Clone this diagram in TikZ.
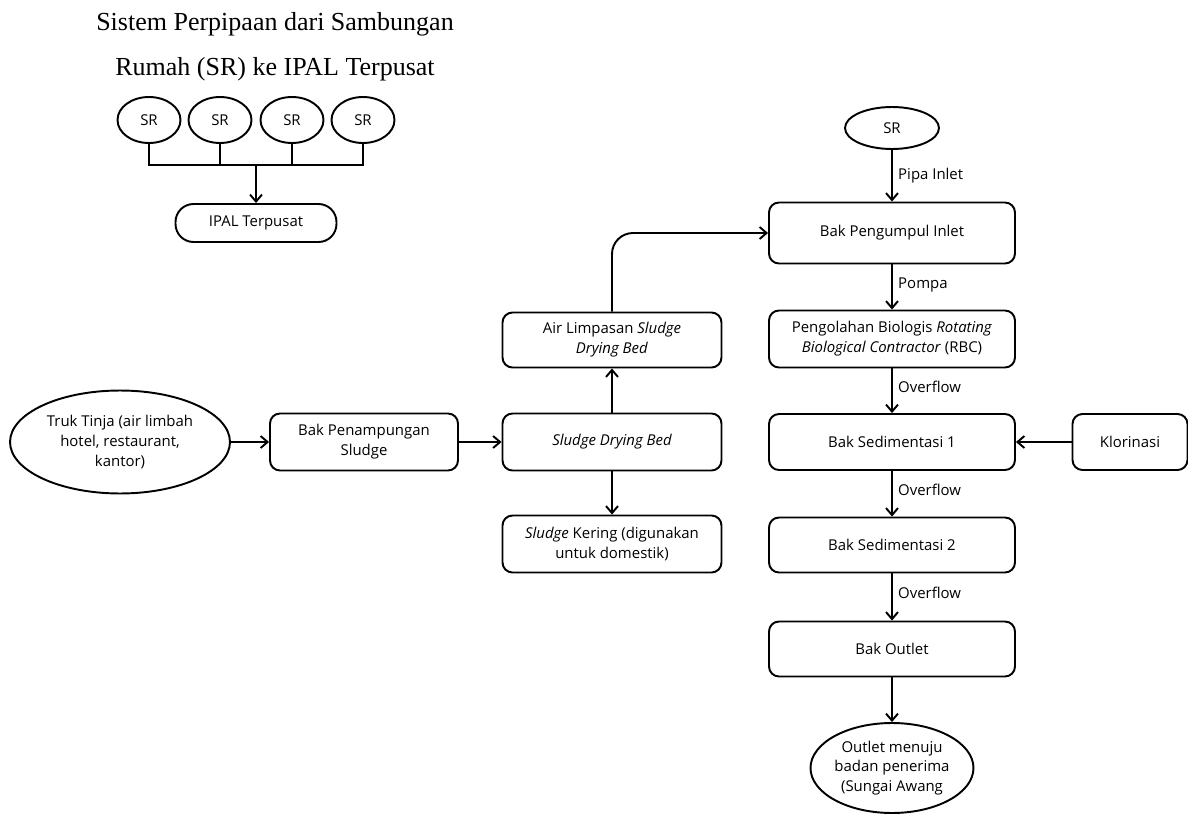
\documentclass[tikz,border=0pt]{standalone}
\usepackage{fontspec}
\setmainfont{Open Sans}
\newfontfamily\judulfont{Liberation Serif}
\usepackage{tikz}
\usetikzlibrary{positioning,arrows.meta,shapes.geometric}
\tikzset{
  box/.style={draw,line width=1.1pt,rounded corners=0.2cm,minimum width=4.92cm,minimum height=1.12cm,
              align=center,inner sep=2pt,font=\fontsize{8.5}{11.3}\selectfont},
  oval/.style={draw,ellipse,line width=1.1pt,inner sep=0pt,align=center,font=\fontsize{8.5}{11.3}\selectfont},
  pipe/.style={line width=1.1pt},
  flow/.style={line width=1.1pt,-{Straight Barb[length=1.4mm,width=2.4mm]}},
  lab/.style={font=\fontsize{8.5}{11.3}\selectfont,right,inner sep=3pt},
  judul/.style={align=center,font=\judulfont\fontsize{14.8}{25.5}\selectfont}
}
\begin{document}
\begin{tikzpicture}[x=0.02cm,y=-0.02cm]
    \useasboundingbox (0,0) rectangle (1188,815);
    % judul dan sistem SR
    \node[judul] (judul) at (275,47) {Sistem Perpipaan dari Sambungan\\Rumah (SR) ke IPAL Terpusat};
    \node[oval,minimum width=1.26cm,minimum height=0.92cm] (sr1) at (149,120) {SR};
    \node[oval,minimum width=1.26cm,minimum height=0.92cm] (sr2) at (220,120) {SR};
    \node[oval,minimum width=1.26cm,minimum height=0.92cm] (sr3) at (292,120) {SR};
    \node[oval,minimum width=1.26cm,minimum height=0.92cm] (sr4) at (363,120) {SR};
    \node[box,minimum width=3.22cm,minimum height=0.76cm,rounded corners=0.36cm] (ipal) at (256,223) {IPAL Terpusat};
    \coordinate (bus) at (256,165);
    \draw[pipe] (sr1.south) |- (bus) -| (sr4.south);
    \draw[pipe] (sr2.south) -- (sr2.south |- bus);
    \draw[pipe] (sr3.south) -- (sr3.south |- bus);
    \draw[flow] (bus) -- (ipal.north);
    % jalur lumpur
    \node[oval,minimum width=4.4cm,minimum height=2.06cm] (truk) at (120,442) {Truk Tinja (air limbah\\hotel, restaurant,\\kantor)};
    \node[box,minimum width=3.76cm,minimum height=1.14cm] (tampung) at (364,442) {Bak Penampungan\\Sludge};
    \node[box,minimum width=4.38cm,minimum height=1.14cm] (sdb) at (612,442) {\itshape Sludge Drying Bed};
    \node[box,minimum width=4.38cm,minimum height=1.14cm] (kering) at (612,544) {\textit{Sludge} Kering (digunakan\\untuk domestik)};
    \node[box,minimum width=4.38cm,minimum height=1.1cm] (limpas) at (612,340) {Air Limpasan \textit{Sludge}\\\textit{Drying Bed}};
    \draw[flow] (truk.east) -- (tampung.west);
    \draw[flow] (tampung.east) -- (sdb.west);
    \draw[flow] (sdb.south) -- (kering.north);
    \draw[flow] (sdb.north) -- (limpas.south);
    % jalur air limbah
    \node[oval,minimum width=1.88cm,minimum height=0.84cm] (srR) at (892,128) {SR};
    \node[box,minimum height=1.22cm] (inlet) at (892,233) {Bak Pengumpul Inlet};
    \node[box,minimum height=1.14cm] (rbc) at (892,339) {Pengolahan Biologis \textit{Rotating}\\\textit{Biological Contractor} (RBC)};
    \node[box] (sed1) at (892,442) {Bak Sedimentasi 1};
    \node[box,minimum width=2.3cm] (klor) at (1130,442) {Klorinasi};
    \node[box,minimum height=1.1cm] (sed2) at (892,545) {Bak Sedimentasi 2};
    \node[box,minimum height=1.1cm] (outlet) at (892,649) {Bak Outlet};
    \node[oval,minimum width=3.26cm,minimum height=1.8cm] (sungai) at (892,768) {Outlet menuju\\badan penerima\\(Sungai Awang};
    \draw[flow,rounded corners=0.42cm] (limpas.north) |- (inlet.west);
    \draw[flow] (srR.south) -- (inlet.north) node[lab,pos=0.5] {Pipa Inlet};
    \draw[flow] (inlet.south) -- (rbc.north) node[lab,pos=0.45] {Pompa};
    \draw[flow] (rbc.south) -- (sed1.north) node[lab,pos=0.42] {Overflow};
    \draw[flow] (klor.west) -- (sed1.east);
    \draw[flow] (sed1.south) -- (sed2.north) node[lab,pos=0.42] {Overflow};
    \draw[flow] (sed2.south) -- (outlet.north) node[lab,pos=0.42] {Overflow};
    \draw[flow] (outlet.south) -- (sungai.north);
\end{tikzpicture}
\end{document}
